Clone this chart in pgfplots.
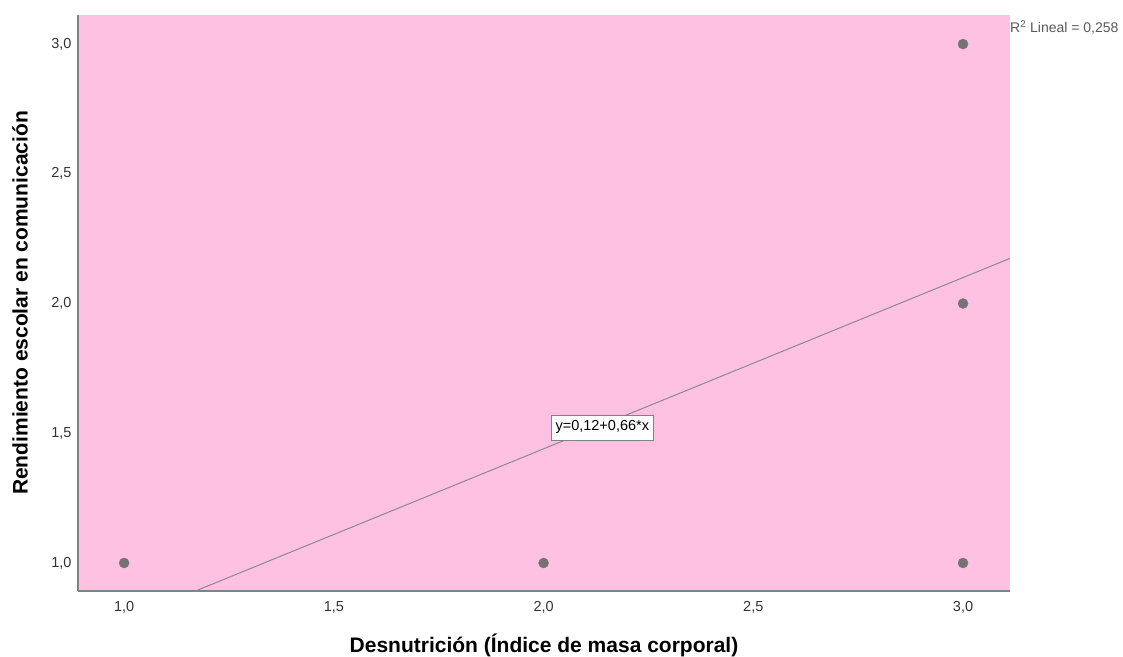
\documentclass[border=0pt]{standalone}
\usepackage{fontspec}
\setmainfont{Liberation Sans}
\usepackage{pgfplots}
\pgfplotsset{compat=1.18}
\definecolor{bgpink}{RGB}{255,193,225}
\definecolor{dotgray}{RGB}{115,115,115}
\definecolor{linegray}{RGB}{140,135,150}
\definecolor{axgray}{RGB}{130,130,130}
\begin{document}
\begin{tikzpicture}
\path[use as bounding box] (0,0) rectangle (1123pt,656pt);
\begin{axis}[
    at={(78pt,65pt)}, anchor=south west,
    scale only axis,
    width=932pt, height=576pt,
    xmin=0.89, xmax=3.112,
    ymin=0.892, ymax=3.112,
    clip mode=individual,
    axis x line=bottom, axis y line=left,
    axis line style={-, draw=axgray, line width=1.2pt},
    axis background/.style={fill=bgpink},
    xtick={1,1.5,2,2.5,3}, ytick={1,1.5,2,2.5,3},
    major tick length=0pt,
    /pgf/number format/.cd, fixed, fixed zerofill, precision=1, use comma, assume math mode=true,
    /pgfplots/.cd,
    ticklabel style={font=\fontsize{14.5}{16}\selectfont, text=black!80},
    xticklabel style={yshift=-7pt},
    yticklabel style={xshift=-3pt},
    xlabel={\textbf{Desnutrición (Índice de masa corporal)}},
    ylabel={\textbf{Rendimiento escolar en comunicación}},
    label style={font=\fontsize{21}{24}\selectfont},
    xlabel style={at={(axis description cs:0.5,0)}, anchor=center, yshift=-54pt},
    ylabel style={at={(axis description cs:0,0.5)}, anchor=center, yshift=58pt},
]
% regression line endpoints (clipped to the plot area)
\addplot[linegray, line width=1pt] coordinates {(1.17,0.892) (3.112,2.174)};
\addplot[only marks, mark=*, mark size=5pt, dotgray, mark options={draw=dotgray, fill=dotgray}]
coordinates {(1,1) (2,1) (3,1) (3,2) (3,3)};
\node[draw=axgray, fill=white, inner xsep=4pt, inner ysep=6pt, font=\fontsize{14.5}{16}\selectfont] at (axis cs:2.14,1.523) {y=0,12+0,66*x};
\node[anchor=north west, inner sep=0pt, text=black!65, font=\fontsize{14}{16}\selectfont] at (rel axis cs:1,1) [yshift=-5pt] {R\textsuperscript{2} Lineal = 0,258};
\end{axis}
\end{tikzpicture}
\end{document}
